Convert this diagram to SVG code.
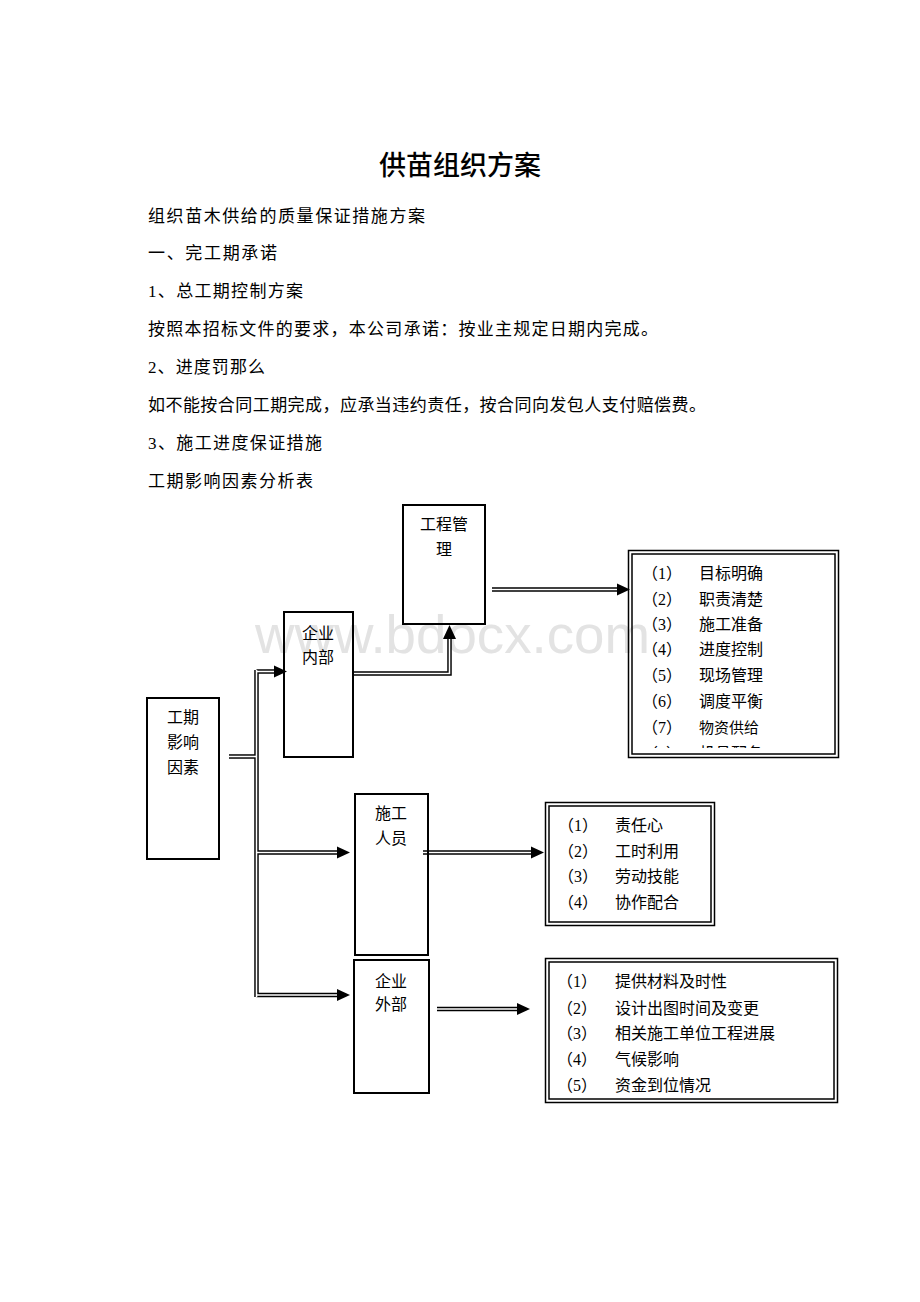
<svg xmlns="http://www.w3.org/2000/svg" width="920" height="1302" viewBox="0 0 920 1302">
<style>
.title{font-family:"Noto Sans CJK SC","Liberation Sans",sans-serif;font-size:27px;font-weight:500;fill:#000;text-anchor:middle}
.body{font-family:"Liberation Serif","Noto Sans CJK SC",serif;font-size:17px;fill:#000}
.lbl{font-family:"Noto Sans CJK SC","Liberation Sans",sans-serif;font-size:16px;fill:#000;text-anchor:middle}
.item{font-family:"Liberation Serif","Noto Sans CJK SC",serif;font-size:16px;fill:#000}
.box{fill:none;stroke:#000;stroke-width:2}
.dbo{fill:none;stroke:#000;stroke-width:1.5}
.wm{font-family:"Liberation Sans",Arial,sans-serif;font-size:54px;fill:#e3e3e3}
.lnb{fill:none;stroke:#000;stroke-width:4.5}
.lnw{fill:none;stroke:#fff;stroke-width:1.6}
.ah{fill:#000}
</style>
<defs>
<clipPath id="clipTop"><rect x="632" y="553" width="204" height="195"/></clipPath>
</defs>
<rect width="920" height="1302" fill="#fff"/>

<g id="heading">
<text class="title" x="460" y="175">供苗组织方案</text>
<text class="body" x="148" y="222" textLength="277" lengthAdjust="spacing">组织苗木供给的质量保证措施方案</text>
<text class="body" x="148" y="259" textLength="129" lengthAdjust="spacing">一、完工期承诺</text>
<text class="body" x="148" y="297" textLength="155" lengthAdjust="spacing">1、总工期控制方案</text>
<text class="body" x="148" y="335" textLength="510" lengthAdjust="spacing">按照本招标文件的要求，本公司承诺：按业主规定日期内完成。</text>
<text class="body" x="148" y="373" textLength="117" lengthAdjust="spacing">2、进度罚那么</text>
<text class="body" x="148" y="411" textLength="558" lengthAdjust="spacing">如不能按合同工期完成，应承当违约责任，按合同向发包人支付赔偿费。</text>
<text class="body" x="148" y="449" textLength="174" lengthAdjust="spacing">3、施工进度保证措施</text>
<text class="body" x="148" y="487" textLength="165" lengthAdjust="spacing">工期影响因素分析表</text>
</g>

<text class="wm" x="255" y="653" textLength="395" lengthAdjust="spacingAndGlyphs">www.bdocx.com</text>

<g id="connectors">
<g class="lnb">
<path d="M229,756.5 H257"/>
<path d="M256.5,670 V997"/>
<path d="M256.5,671.5 H276"/>
<path d="M353,673.5 H449.5 V638"/>
<path d="M492,589.5 H619"/>
<path d="M256.5,852.5 H338"/>
<path d="M423,852.5 H532"/>
<path d="M256.5,995 H338"/>
<path d="M437,1009 H518"/>
</g>
<g class="lnw">
<path d="M229,756.5 H257"/>
<path d="M256.5,670 V997"/>
<path d="M256.5,671.5 H276"/>
<path d="M353,673.5 H449.5 V638"/>
<path d="M492,589.5 H619"/>
<path d="M256.5,852.5 H338"/>
<path d="M423,852.5 H532"/>
<path d="M256.5,995 H338"/>
<path d="M437,1009 H518"/>
</g>
<polygon class="ah" points="274,665.5 287,671.5 274,677.5"/>
<polygon class="ah" points="443,639 449.5,625 456,639"/>
<polygon class="ah" points="617,583.5 630,589.5 617,595.5"/>
<polygon class="ah" points="337,846.5 350,852.5 337,858.5"/>
<polygon class="ah" points="531,846.5 544,852.5 531,858.5"/>
<polygon class="ah" points="337,989 350,995 337,1001"/>
<polygon class="ah" points="517,1003 530,1009 517,1015"/>
</g>

<g id="node-gcgl">
<rect class="box" x="403" y="505" width="82" height="119"/>
<text class="lbl" x="444" y="530">工程管</text>
<text class="lbl" x="444" y="555">理</text>
</g>

<g id="node-qynb">
<rect class="box" x="284" y="612" width="69" height="145"/>
<text class="lbl" x="318" y="639">企业</text>
<text class="lbl" x="318" y="663">内部</text>
</g>

<g id="node-gqyxys">
<rect class="box" x="147" y="698" width="72" height="161"/>
<text class="lbl" x="183" y="723">工期</text>
<text class="lbl" x="183" y="748">影响</text>
<text class="lbl" x="183" y="773">因素</text>
</g>

<g id="node-sgry">
<rect class="box" x="355" y="794" width="73" height="161"/>
<text class="lbl" x="391" y="819">施工</text>
<text class="lbl" x="391" y="844">人员</text>
</g>

<g id="node-qywb">
<rect class="box" x="354" y="960" width="75" height="133"/>
<text class="lbl" x="391" y="987">企业</text>
<text class="lbl" x="391" y="1010">外部</text>
</g>

<g id="list-top">
<rect class="dbo" x="628.5" y="550.5" width="210" height="207"/>
<rect class="dbo" x="632" y="554" width="203" height="200"/>
<g clip-path="url(#clipTop)">
<text class="item" x="642" y="579">（1）</text><text class="item" x="699" y="579">目标明确</text>
<text class="item" x="642" y="605">（2）</text><text class="item" x="699" y="605">职责清楚</text>
<text class="item" x="642" y="630">（3）</text><text class="item" x="699" y="630">施工准备</text>
<text class="item" x="642" y="655">（4）</text><text class="item" x="699" y="655">进度控制</text>
<text class="item" x="642" y="681">（5）</text><text class="item" x="699" y="681">现场管理</text>
<text class="item" x="642" y="707">（6）</text><text class="item" x="699" y="707">调度平衡</text>
<text class="item" x="642" y="733">（7）</text><text class="item" x="699" y="733" style="font-size:15px">物资供给</text>
<text class="item" x="642" y="759">（8）</text><text class="item" x="699" y="759">机具配备</text>
</g>
</g>

<g id="list-mid">
<rect class="dbo" x="545.5" y="802.5" width="169" height="123"/>
<rect class="dbo" x="549" y="806" width="162" height="116"/>
<text class="item" x="558" y="831">（1）</text><text class="item" x="615" y="831">责任心</text>
<text class="item" x="558" y="857">（2）</text><text class="item" x="615" y="857">工时利用</text>
<text class="item" x="558" y="882">（3）</text><text class="item" x="615" y="882">劳动技能</text>
<text class="item" x="558" y="908">（4）</text><text class="item" x="615" y="908">协作配合</text>
</g>

<g id="list-bot">
<rect class="dbo" x="545.5" y="958.5" width="292" height="144"/>
<rect class="dbo" x="549" y="962" width="285" height="137"/>
<text class="item" x="557" y="987">（1）</text><text class="item" x="615" y="987">提供材料及时性</text>
<text class="item" x="557" y="1014">（2）</text><text class="item" x="615" y="1014">设计出图时间及变更</text>
<text class="item" x="557" y="1039">（3）</text><text class="item" x="615" y="1039">相关施工单位工程进展</text>
<text class="item" x="557" y="1065">（4）</text><text class="item" x="615" y="1065">气候影响</text>
<text class="item" x="557" y="1091">（5）</text><text class="item" x="615" y="1091">资金到位情况</text>
</g>
</svg>
